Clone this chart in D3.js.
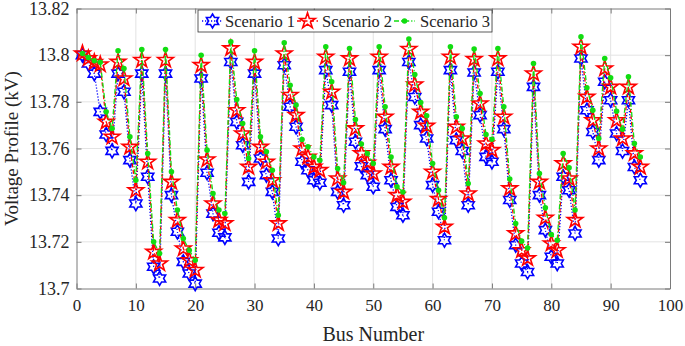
<!DOCTYPE html>
<html>
<head>
<meta charset="utf-8">
<script src="https://cdn.jsdelivr.net/npm/d3@7"></script>
<style>
  html, body { margin: 0; padding: 0; background: #fff; }
  svg { display: block; font-family: "Liberation Serif", "Times New Roman", serif; }
</style>
</head>
<body>
<div class="chart"></div>
<script>
const buses = d3.range(1, 96);

const scenario1 = [
  13.8000, 13.7964, 13.7921, 13.7757, 13.7660, 13.7590, 13.7921, 13.7843, 13.7550, 13.7364,
  13.7921, 13.7479, 13.7093, 13.7043, 13.7921, 13.7400, 13.7243, 13.7114, 13.7064, 13.7021,
  13.7900, 13.7496, 13.7321, 13.7239, 13.7219, 13.7971, 13.7714, 13.7614, 13.7457, 13.7921,
  13.7557, 13.7486, 13.7414, 13.7214, 13.7957, 13.7779, 13.7693, 13.7543, 13.7507, 13.7464,
  13.7453, 13.7936, 13.7786, 13.7414, 13.7357, 13.7929, 13.7629, 13.7524, 13.7486, 13.7436,
  13.7936, 13.7683, 13.7464, 13.7350, 13.7314, 13.7971, 13.7821, 13.7700, 13.7643, 13.7443,
  13.7329, 13.7207, 13.7936, 13.7636, 13.7589, 13.7357, 13.7926, 13.7743, 13.7564, 13.7543,
  13.7929, 13.7683, 13.7379, 13.7186, 13.7107, 13.7071, 13.7864, 13.7400, 13.7250, 13.7136,
  13.7107, 13.7479, 13.7421, 13.7236, 13.7986, 13.7764, 13.7671, 13.7550, 13.7886, 13.7807,
  13.7664, 13.7589, 13.7807, 13.7521, 13.7464
];

const scenario2 = [
  13.8007, 13.7986, 13.7970, 13.7960, 13.7714, 13.7650, 13.7971, 13.7900, 13.7607, 13.7421,
  13.7979, 13.7543, 13.7157, 13.7107, 13.7979, 13.7457, 13.7293, 13.7171, 13.7121, 13.7079,
  13.7957, 13.7553, 13.7364, 13.7293, 13.7279, 13.8029, 13.7764, 13.7664, 13.7521, 13.7971,
  13.7607, 13.7543, 13.7464, 13.7279, 13.8007, 13.7829, 13.7743, 13.7600, 13.7564, 13.7521,
  13.7507, 13.7993, 13.7843, 13.7471, 13.7414, 13.7986, 13.7686, 13.7579, 13.7539, 13.7493,
  13.7993, 13.7736, 13.7521, 13.7400, 13.7371, 13.8026, 13.7874, 13.7757, 13.7697, 13.7500,
  13.7383, 13.7264, 13.7993, 13.7693, 13.7643, 13.7407, 13.7983, 13.7793, 13.7621, 13.7593,
  13.7986, 13.7736, 13.7429, 13.7236, 13.7164, 13.7129, 13.7921, 13.7457, 13.7303, 13.7193,
  13.7164, 13.7536, 13.7471, 13.7293, 13.8036, 13.7821, 13.7721, 13.7600, 13.7943, 13.7864,
  13.7721, 13.7643, 13.7864, 13.7579, 13.7521
];

const scenario3 = [
  13.8007, 13.7990, 13.7976, 13.7970, 13.7757, 13.7686, 13.8019, 13.7943, 13.7650, 13.7464,
  13.8024, 13.7579, 13.7200, 13.7150, 13.8024, 13.7500, 13.7336, 13.7214, 13.7164, 13.7121,
  13.8000, 13.7593, 13.7407, 13.7336, 13.7321, 13.8057, 13.7810, 13.7707, 13.7557, 13.8019,
  13.7650, 13.7586, 13.7507, 13.7314, 13.8053, 13.7871, 13.7786, 13.7639, 13.7607, 13.7564,
  13.7550, 13.8036, 13.7886, 13.7514, 13.7453, 13.8029, 13.7724, 13.7619, 13.7579, 13.7536,
  13.8036, 13.7779, 13.7564, 13.7436, 13.7414, 13.8069, 13.7917, 13.7797, 13.7740, 13.7536,
  13.7421, 13.7303, 13.8036, 13.7736, 13.7686, 13.7450, 13.8026, 13.7836, 13.7660, 13.7640,
  13.8029, 13.7779, 13.7469, 13.7279, 13.7203, 13.7174, 13.7964, 13.7493, 13.7346, 13.7231,
  13.7207, 13.7579, 13.7517, 13.7336, 13.8079, 13.7860, 13.7764, 13.7643, 13.7986, 13.7903,
  13.7760, 13.7683, 13.7907, 13.7621, 13.7564
];

const seriesNames = ['Scenario 1', 'Scenario 2', 'Scenario 3'];
const xTicks = [0, 10, 20, 30, 40, 50, 60, 70, 80, 90, 100];
const yTicks = [13.7, 13.72, 13.74, 13.76, 13.78, 13.8, 13.82];

(function() {
  'use strict';

  let width = 685,
      height = 346,
      margin = { top: 8.5, right: 15, bottom: 57.5, left: 76.5 },
      innerW = width - margin.left - margin.right,
      innerH = height - margin.top - margin.bottom,

      svg = d3.select('.chart')
        .append('svg')
        .attr('width', width)
        .attr('height', height),

      g = svg.append('g')
        .attr('transform', `translate(${margin.left},${margin.top})`),

      x = d3.scaleLinear().domain([0, 100]).range([0, innerW]),
      y = d3.scaleLinear().domain([13.7, 13.82]).range([innerH, 0]),

      // six pointed star (matlab 'hexagram')
      hexagram = {
        draw: (ctx, size) => {
          let r = Math.sqrt(size), ri = r / Math.sqrt(3);
          for (let i = 0; i < 12; i++) {
            let a = -Math.PI / 2 + i * Math.PI / 6,
                rr = i % 2 ? ri : r;
            if (i === 0) ctx.moveTo(rr * Math.cos(a), rr * Math.sin(a));
            else ctx.lineTo(rr * Math.cos(a), rr * Math.sin(a));
          }
          ctx.closePath();
        }
      },

      styles = [
        { color: '#0000ff', dash: '1.2,1.8', symbol: d3.symbol(hexagram, 49), fill: 'none', sw: 1.6 },
        { color: '#ff0000', dash: '4,2.5', symbol: d3.symbol(d3.symbolStar, 75), fill: 'none', sw: 1.6 },
        { color: '#11dd11', dash: '5,2,1.2,2', symbol: d3.symbol(d3.symbolCircle, 24), fill: '#11dd11', sw: 0 }
      ],
      allSeries = [scenario1, scenario2, scenario3];

  // grid
  g.append('g')
    .selectAll('line')
    .data(xTicks.slice(1, -1))
    .enter()
    .append('line')
      .attr('x1', d => x(d)).attr('x2', d => x(d))
      .attr('y1', 0).attr('y2', innerH)
      .style('stroke', '#e3e3e3');

  g.append('g')
    .selectAll('line')
    .data(yTicks.slice(1, -1))
    .enter()
    .append('line')
      .attr('x1', 0).attr('x2', innerW)
      .attr('y1', d => y(d)).attr('y2', d => y(d))
      .style('stroke', '#e3e3e3');

  // axes, ticks pointing inwards on all four sides
  let axisColor = '#7a7a7a';
  let axes = [
    g.append('g').attr('transform', `translate(0,${innerH})`)
      .call(d3.axisBottom(x).tickValues(xTicks).tickSizeInner(-5).tickSizeOuter(0).tickPadding(10)),
    g.append('g')
      .call(d3.axisLeft(y).tickValues(yTicks).tickFormat(d3.format('~g')).tickSizeInner(-5).tickSizeOuter(0).tickPadding(7)),
    g.append('g')
      .call(d3.axisTop(x).tickValues(xTicks).tickSizeInner(-5).tickSizeOuter(0).tickFormat('')),
    g.append('g').attr('transform', `translate(${innerW},0)`)
      .call(d3.axisRight(y).tickValues(yTicks).tickSizeInner(-5).tickSizeOuter(0).tickFormat(''))
  ];
  axes.forEach(a => {
    a.select('.domain').style('stroke', axisColor);
    a.selectAll('.tick line').style('stroke', axisColor);
    a.selectAll('.tick text')
      .style('font-family', '"Liberation Serif", serif')
      .style('font-size', '17px')
      .style('fill', '#262626');
  });
  axes[1].selectAll('.tick text').style('font-size', '18px');

  // series: lines then markers
  allSeries.forEach((vals, i) => {
    let s = styles[i],
        pts = buses.map((b, j) => ({ b: b, v: vals[j] }));

    g.append('path')
      .datum(pts)
      .attr('d', d3.line().x(d => x(d.b)).y(d => y(d.v)))
      .style('fill', 'none')
      .style('stroke', s.color)
      .style('stroke-width', 1.3)
      .style('stroke-dasharray', s.dash);

    g.append('g')
      .selectAll('path')
      .data(pts)
      .enter()
      .append('path')
        .attr('transform', d => `translate(${x(d.b)},${y(d.v)})`)
        .attr('d', s.symbol)
        .style('fill', s.fill)
        .style('stroke', s.color)
        .style('stroke-width', s.sw);
  });

  // axis titles
  svg.append('text')
    .attr('x', margin.left + innerW / 2)
    .attr('y', 341)
    .attr('text-anchor', 'middle')
    .style('font-size', '20px')
    .style('fill', '#262626')
    .text('Bus Number');

  svg.append('text')
    .attr('transform', `translate(18,${margin.top + innerH / 2}) rotate(-90)`)
    .attr('text-anchor', 'middle')
    .style('font-size', '19px')
    .style('fill', '#262626')
    .text('Voltage Profile (kV)');

  // legend
  let leg = svg.append('g').attr('transform', 'translate(198,10)');
  leg.append('rect')
    .attr('width', 294).attr('height', 22)
    .style('fill', '#fff')
    .style('stroke', '#333')
    .style('stroke-width', 0.8);

  let legX = [[4, 25, 27], [99, 120, 124], [196, 217, 222]];
  seriesNames.forEach((name, i) => {
    let s = styles[i], lx = legX[i];
    leg.append('line')
      .attr('x1', lx[0]).attr('x2', lx[1])
      .attr('y1', 11).attr('y2', 11)
      .style('stroke', s.color)
      .style('stroke-width', 1.3)
      .style('stroke-dasharray', s.dash);
    leg.append('path')
      .attr('transform', `translate(${(lx[0] + lx[1]) / 2},11)`)
      .attr('d', s.symbol)
      .style('fill', s.fill)
      .style('stroke', s.color)
      .style('stroke-width', s.sw);
    leg.append('text')
      .attr('x', lx[2])
      .attr('y', 17)
      .style('font-size', '16.5px')
      .style('fill', '#262626')
      .text(name);
  });
})();
</script>
</body>
</html>
